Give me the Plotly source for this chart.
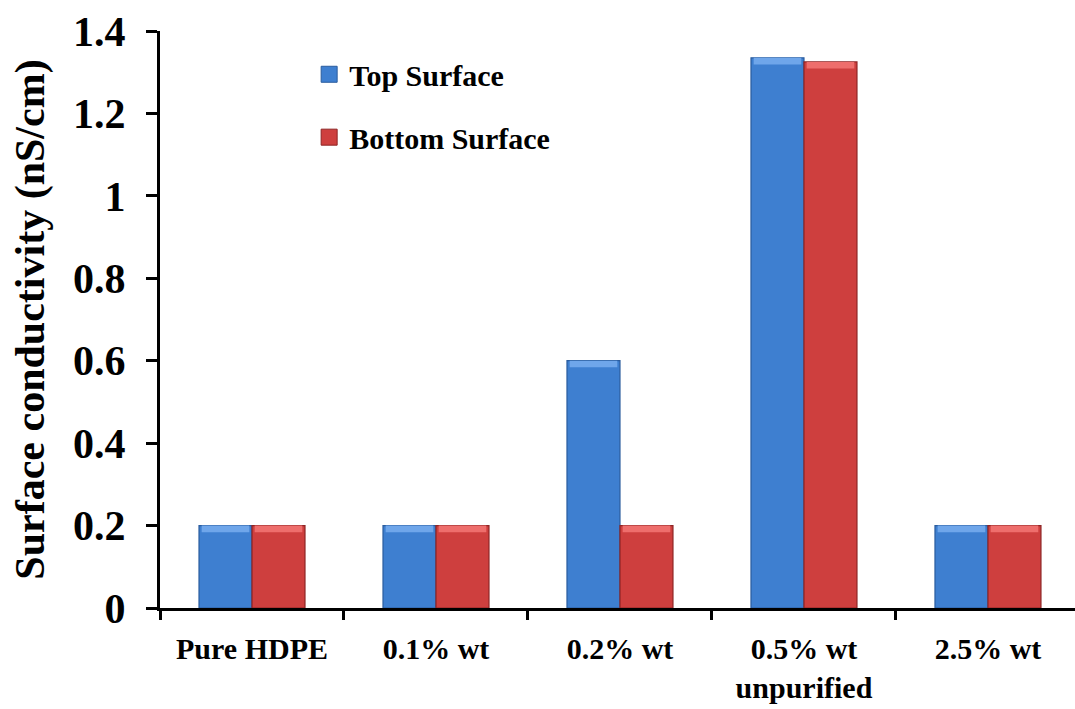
import plotly.graph_objects as go

categories = ["Pure HDPE", "0.1% wt", "0.2% wt", "0.5% wt<br>unpurified", "2.5% wt"]
top_surface = [0.2, 0.2, 0.6, 1.335, 0.2]
bottom_surface = [0.2, 0.2, 0.2, 1.325, 0.2]

FONT = "Liberation Serif"
BAR_W = 0.288
CAP = 0.016  # height of the lighter bevel band on each bar top

series = [
    dict(name="Top Surface", values=top_surface, offset=-BAR_W,
         fill="#3E7FD0", edge="#2A5C9E", cap="#6FA6EA", legend="legend"),
    dict(name="Bottom Surface", values=bottom_surface, offset=0.0,
         fill="#CE3F3E", edge="#8E2424", cap="#EE6E6C", legend="legend2"),
]

fig = go.Figure()
for s in series:
    fig.add_trace(go.Bar(
        x=categories, y=s["values"], width=BAR_W, offset=s["offset"],
        marker=dict(color=s["fill"], line=dict(color=s["edge"], width=1.2)),
        showlegend=False, hoverinfo="skip",
    ))
    fig.add_trace(go.Bar(
        x=categories, y=[CAP] * len(s["values"]),
        base=[v - CAP for v in s["values"]], width=BAR_W * 0.9,
        offset=s["offset"] + BAR_W * 0.05,
        marker=dict(color=s["cap"], line=dict(width=0)),
        showlegend=False, hoverinfo="skip",
    ))
    # legend entry
    fig.add_trace(go.Scatter(
        x=[None], y=[None], mode="markers", name=s["name"],
        marker=dict(symbol="square", size=16, color=s["fill"],
                    line=dict(color=s["edge"], width=1)),
        legend=s["legend"],
    ))

legend_common = dict(
    font=dict(family=FONT, size=30, color="black", weight="bold"),
    bgcolor="rgba(0,0,0,0)", xanchor="left", yanchor="middle",
    itemclick=False, itemdoubleclick=False,
)

fig.update_layout(
    width=1075, height=709,
    margin=dict(l=160, r=0, t=31, b=101),
    paper_bgcolor="white", plot_bgcolor="white",
    barmode="overlay",
    showlegend=True,
    legend=dict(x=0.163, y=0.925, **legend_common),
    legend2=dict(x=0.163, y=0.816, **legend_common),
    xaxis=dict(
        type="category", range=[-0.5, 4.473], automargin=False,
        showline=True, linecolor="black", linewidth=3,
        ticks="outside", tickson="boundaries", ticklen=9, tickwidth=3,
        tickcolor="black", showgrid=False, zeroline=False,
        tickfont=dict(family=FONT, size=30, color="black", weight="bold"),
        ticklabelstandoff=12,
    ),
    yaxis=dict(
        range=[0, 1.4], tickvals=[0, 0.2, 0.4, 0.6, 0.8, 1.0, 1.2, 1.4],
        ticktext=["0", "0.2", "0.4", "0.6", "0.8", "1", "1.2", "1.4"],
        automargin=False,
        showline=True, linecolor="black", linewidth=3,
        ticks="outside", ticklen=11, tickwidth=3, tickcolor="black",
        showgrid=False, zeroline=False,
        tickfont=dict(family=FONT, size=42, color="black", weight="bold"),
        ticklabelstandoff=12,
        title=dict(text="Surface conductivity (nS/cm)",
                   font=dict(family=FONT, size=42, color="black", weight="bold"),
                   standoff=16),
    ),
)

fig.write_html("out.html")
